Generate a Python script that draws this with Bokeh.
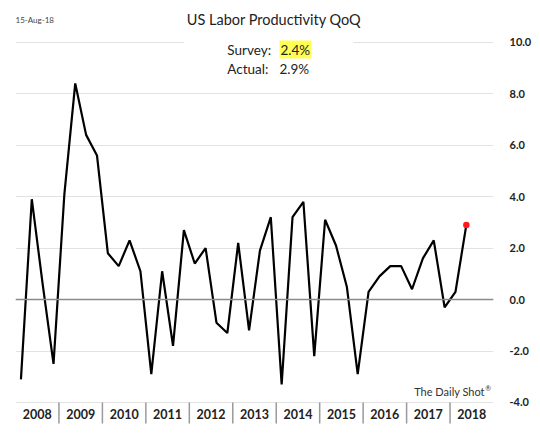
from bokeh.plotting import figure
from bokeh.models import (Range1d, FixedTicker, NumeralTickFormatter, Span, Label,
                          BoxAnnotation, ColumnDataSource)
from bokeh.core.properties import value
from bokeh.embed import file_html
from bokeh.resources import INLINE

# ---- data ----
years = [str(y) for y in range(2008, 2019)]
productivity = [-3.1, 3.9, 0.6, -2.5, 4.1, 8.4, 6.4, 5.6, 1.8, 1.3, 2.3, 1.1,
                -2.9, 1.1, -1.8, 2.7, 1.4, 2.0, -0.9, -1.3, 2.2, -1.2, 1.9, 3.2,
                -3.3, 3.2, 3.8, -2.2, 3.1, 2.1, 0.5, -2.9, 0.3, 0.9, 1.3, 1.3,
                0.4, 1.6, 2.3, -0.3, 0.3, 2.9]
y_ticks = [-4, -2, 0, 2, 4, 6, 8, 10]
survey_value = "2.4%"
actual_value = "2.9%"

quarter_pos = [i + 0.5 for i in range(len(productivity))]
year_centers = [4 * k + 2 for k in range(len(years))]
year_bounds = [4 * k for k in range(1, len(years))]

FONT = "Lato"
Y_MIN, Y_MAX = -4, 10
PX_PER_UNIT = 360 / 14.0
y_lo = Y_MIN - 33 / PX_PER_UNIT
y_hi = Y_MAX + 41.7 / PX_PER_UNIT

p = figure(width=540, height=435, output_backend="svg", toolbar_location=None,
           x_range=Range1d(0, 44), y_range=Range1d(y_lo, y_hi),
           y_axis_location="right",
           min_border_left=15, min_border_right=47, min_border_top=0, min_border_bottom=0)
p.outline_line_color = None
p.background_fill_color = "white"
p.xaxis.visible = False

# y axis (right)
p.yaxis.ticker = FixedTicker(ticks=y_ticks)
p.yaxis.formatter = NumeralTickFormatter(format="0.0")
p.yaxis.axis_line_color = None
p.yaxis.major_tick_line_color = None
p.yaxis.minor_tick_line_color = None
p.yaxis.major_label_text_font = FONT
p.yaxis.major_label_text_font_style = "bold"
p.yaxis.major_label_text_font_size = "11px"
p.yaxis.major_label_text_color = "#222222"
p.yaxis.major_label_standoff = 10

p.xgrid.grid_line_color = None
p.ygrid.ticker = FixedTicker(ticks=y_ticks)
p.ygrid.grid_line_color = "#e2e2e2"
p.ygrid.grid_line_width = 1

p.add_layout(Span(location=0, dimension="width", line_color="#8a8a8a", line_width=1.5))

# white panel behind the annotation text
p.add_layout(BoxAnnotation(left=15.5, right=31.1, bottom=9.0, top=10.4,
                           fill_color="white", fill_alpha=1.0, line_color=None,
                           level="underlay"))

# year labels and separators below the -4 line
p.segment(x0=year_bounds, y0=[Y_MIN] * len(year_bounds),
          x1=year_bounds, y1=[Y_MIN - 21 / PX_PER_UNIT] * len(year_bounds),
          line_color="#9a9a9a", line_width=1.5)
p.text(x=year_centers, y=[Y_MIN - 11.5 / PX_PER_UNIT] * len(years), text=years,
       text_font=value(FONT), text_font_style="bold", text_font_size="12.5px",
       text_color="#222222", text_align="center", text_baseline="middle")

src = ColumnDataSource(dict(x=quarter_pos, y=productivity))
p.line("x", "y", source=src, line_color="black", line_width=2.2)
p.scatter([quarter_pos[-1]], [productivity[-1]], size=6.5, color="#ff1a1a", line_color=None)

# texts
def ylab(py):
    return Y_MAX - (py - 41.7) / PX_PER_UNIT

p.add_layout(Label(x=23.8, y=ylab(18.5), text="US Labor Productivity QoQ", text_font=FONT,
                   text_font_size="14.5px", text_color="#222222", text_align="center",
                   text_baseline="middle"))
p.add_layout(Label(x=0, y=ylab(19), text="15-Aug-18", text_font=FONT,
                   text_font_size="8px", text_color="#444444", text_align="left",
                   text_baseline="middle"))
p.add_layout(Label(x=19.5, y=ylab(49), text="Survey:", text_font=FONT,
                   text_font_size="13.5px", text_color="#222222", text_align="left",
                   text_baseline="middle"))
p.add_layout(Label(x=24.3, y=ylab(49), text=survey_value, text_font=FONT,
                   text_font_size="13.5px", text_color="#222222", text_align="left",
                   text_baseline="middle", background_fill_color="#ffff55",
                   padding=1))
p.add_layout(Label(x=19.5, y=ylab(68), text="Actual:", text_font=FONT,
                   text_font_size="13.5px", text_color="#222222", text_align="left",
                   text_baseline="middle"))
p.add_layout(Label(x=24.3, y=ylab(68), text=actual_value, text_font=FONT,
                   text_font_size="13.5px", text_color="#222222", text_align="left",
                   text_baseline="middle"))
p.add_layout(Label(x=43.2, y=ylab(391), text="The Daily Shot", text_font=FONT,
                   text_font_size="11px", text_color="#333333", text_align="right",
                   text_baseline="middle"))
p.add_layout(Label(x=43.25, y=ylab(387), text="\u00ae", text_font=FONT,
                   text_font_size="7px", text_color="#333333", text_align="left",
                   text_baseline="middle"))

open("out.html", "w").write(file_html(p, INLINE))
